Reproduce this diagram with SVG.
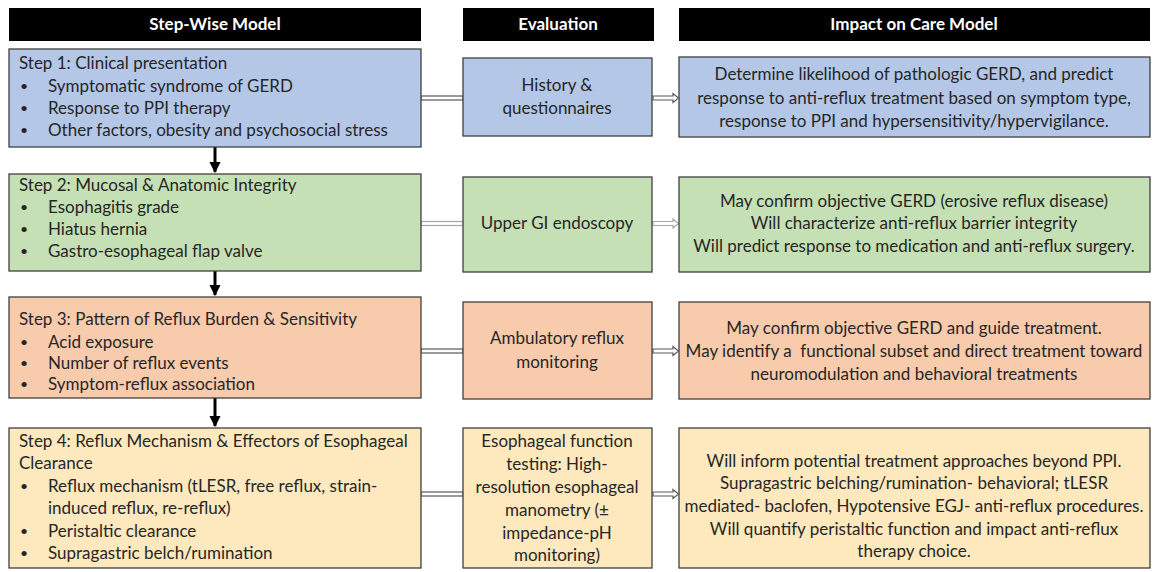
<svg xmlns="http://www.w3.org/2000/svg" width="1157" height="572" viewBox="0 0 1157 572">
<defs>
<style>
text{font-family:Lato,"Liberation Sans",sans-serif;fill:#262626;font-size:17px}
text.bu{font-size:14px}
.hd{fill:#000}
.ht{fill:#fff;font-weight:bold;font-size:17px;text-anchor:middle}
.box{stroke:#404040;stroke-width:1.3}
.c{text-anchor:middle}
.b1{fill:#b4c7e7}.b2{fill:#c5e0b4}.b3{fill:#f8cbad}.b4{fill:#fde9bd}
.dl{fill:#fff;stroke:#595959;stroke-width:1.2}
.dl2{fill:#fff;stroke:#a6a6a6;stroke-width:1.2}
.down{stroke:#000;stroke-width:3;fill:none}
</style>
<marker id="ah" viewBox="0 0 10 10" refX="9" refY="5" markerWidth="3.7" markerHeight="3.7" orient="auto"><path d="M0,0 L10,5 L0,10 Z" fill="#000"/></marker>
</defs>

<g id="headers">
<rect class="hd" x="9" y="8" width="412" height="33"/>
<text class="ht" x="215" y="30">Step-Wise Model</text>
<rect class="hd" x="463" y="8" width="191" height="33"/>
<text class="ht" x="558" y="30">Evaluation</text>
<rect class="hd" x="679" y="8" width="471" height="33"/>
<text class="ht" x="914" y="30">Impact on Care Model</text>
</g>

<g id="connectors">
<line class="down" x1="215" y1="147" x2="215" y2="172" marker-end="url(#ah)"/>
<line class="down" x1="215" y1="271" x2="215" y2="295" marker-end="url(#ah)"/>
<line class="down" x1="215" y1="398" x2="215" y2="426" marker-end="url(#ah)"/>
<rect class="dl" x="421" y="96" width="42" height="4"/>
<path class="dl" d="M653,96 H673 V93.5 L678.5,98 L673,102.5 V100 H653 Z"/>
<rect class="dl2" x="421" y="221.5" width="42" height="4"/>
<path class="dl2" d="M653,221.5 H673 V219 L678.5,223.5 L673,228 V225.5 H653 Z"/>
<rect class="dl" x="421" y="349" width="42" height="4"/>
<path class="dl" d="M653,349 H673 V346.5 L678.5,351 L673,355.5 V353 H653 Z"/>
<rect class="dl" x="421" y="492" width="42" height="4"/>
<path class="dl" d="M653,492 H673 V489.5 L678.5,494 L673,498.5 V496 H653 Z"/>
</g>

<g id="step1">
<rect class="box b1" x="9" y="49" width="412" height="98"/>
<text x="19" y="69">Step 1: Clinical presentation</text>
<text class="bu" x="20" y="91">•</text><text x="48" y="92">Symptomatic syndrome of GERD</text>
<text class="bu" x="20" y="113">•</text><text x="48" y="114">Response to PPI therapy</text>
<text class="bu" x="20" y="135">•</text><text x="48" y="136">Other factors, obesity and psychosocial stress</text>
</g>
<g id="eval1">
<rect class="box b1" x="463" y="58" width="189" height="78"/>
<text class="c" x="557" y="91">History &amp;</text>
<text class="c" x="557" y="114">questionnaires</text>
</g>
<g id="impact1">
<rect class="box b1" x="679" y="57" width="471" height="80"/>
<text class="c" x="914" y="80">Determine likelihood of pathologic GERD, and predict</text>
<text class="c" x="914" y="104">response to anti-reflux treatment based on symptom type,</text>
<text class="c" x="914" y="127">response to PPI and hypersensitivity/hypervigilance.</text>
</g>

<g id="step2">
<rect class="box b2" x="9" y="174" width="412" height="97"/>
<text x="19" y="191">Step 2: Mucosal &amp; Anatomic Integrity</text>
<text class="bu" x="20" y="212">•</text><text x="48" y="213">Esophagitis grade</text>
<text class="bu" x="20" y="234">•</text><text x="48" y="235">Hiatus hernia</text>
<text class="bu" x="20" y="256">•</text><text x="48" y="257">Gastro-esophageal flap valve</text>
</g>
<g id="eval2">
<rect class="box b2" x="463" y="177" width="189" height="95"/>
<text class="c" x="557" y="229">Upper GI endoscopy</text>
</g>
<g id="impact2">
<rect class="box b2" x="679" y="177" width="471" height="95"/>
<text class="c" x="914" y="207">May confirm objective GERD (erosive reflux disease)</text>
<text class="c" x="914" y="229">Will characterize anti-reflux barrier integrity</text>
<text class="c" x="914" y="252">Will predict response to medication and anti-reflux surgery.</text>
</g>

<g id="step3">
<rect class="box b3" x="9" y="297" width="412" height="101"/>
<text x="19" y="325">Step 3: Pattern of Reflux Burden &amp; Sensitivity</text>
<text class="bu" x="20" y="347">•</text><text x="48" y="348">Acid exposure</text>
<text class="bu" x="20" y="368">•</text><text x="48" y="369">Number of reflux events</text>
<text class="bu" x="20" y="389">•</text><text x="48" y="390">Symptom-reflux association</text>
</g>
<g id="eval3">
<rect class="box b3" x="463" y="302" width="189" height="97"/>
<text class="c" x="557" y="344">Ambulatory reflux</text>
<text class="c" x="557" y="368">monitoring</text>
</g>
<g id="impact3">
<rect class="box b3" x="679" y="302" width="471" height="97"/>
<text class="c" x="914" y="334">May confirm objective GERD and guide treatment.</text>
<text class="c" x="914" y="357" xml:space="preserve">May identify a  functional subset and direct treatment toward</text>
<text class="c" x="914" y="380">neuromodulation and behavioral treatments</text>
</g>

<g id="step4">
<rect class="box b4" x="9" y="428" width="412" height="140"/>
<text x="19" y="447">Step 4: Reflux Mechanism &amp; Effectors of Esophageal</text>
<text x="19" y="469">Clearance</text>
<text class="bu" x="20" y="491">•</text><text x="48" y="492">Reflux mechanism (tLESR, free reflux, strain-</text>
<text x="48" y="514">induced reflux, re-reflux)</text>
<text class="bu" x="20" y="536">•</text><text x="48" y="537">Peristaltic clearance</text>
<text class="bu" x="20" y="558">•</text><text x="48" y="559">Supragastric belch/rumination</text>
</g>
<g id="eval4">
<rect class="box b4" x="463" y="428" width="189" height="140"/>
<text class="c" x="557" y="447">Esophageal function</text>
<text class="c" x="557" y="470">testing: High-</text>
<text class="c" x="557" y="493">resolution esophageal</text>
<text class="c" x="557" y="516">manometry (±</text>
<text class="c" x="557" y="539">impedance-pH</text>
<text class="c" x="557" y="561">monitoring)</text>
</g>
<g id="impact4">
<rect class="box b4" x="679" y="428" width="471" height="140"/>
<text class="c" x="914" y="467">Will inform potential treatment approaches beyond PPI.</text>
<text class="c" x="914" y="489">Supragastric belching/rumination- behavioral; tLESR</text>
<text class="c" x="914" y="512">mediated- baclofen, Hypotensive EGJ- anti-reflux procedures.</text>
<text class="c" x="914" y="535">Will quantify peristaltic function and impact anti-reflux</text>
<text class="c" x="914" y="557">therapy choice.</text>
</g>
</svg>
